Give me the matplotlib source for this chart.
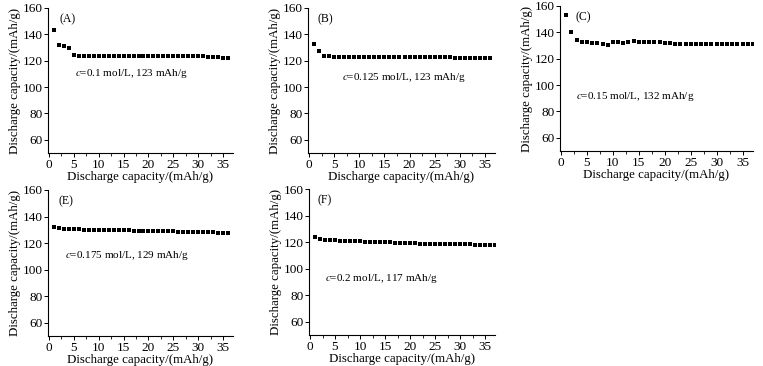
import numpy as np
import matplotlib
matplotlib.use("Agg")
import matplotlib.pyplot as plt
from matplotlib.ticker import MultipleLocator

plt.rcParams['font.family'] = ['Liberation Serif', 'DejaVu Serif']

# cycle number and capacity for each panel
cyc_a = list(range(1, 37))
cap_a = [143.5, 132.3, 130.8, 129.3, 124.3, 123.5, 123.4, 123.3, 123.4, 123.4,
         123.5, 123.4, 123.4, 123.4, 123.5, 123.4, 123.4, 123.5, 123.4, 123.4,
         123.5, 123.4, 123.4, 123.4, 123.5, 123.4, 123.4, 123.5, 123.4, 123.3,
         123.4, 123.0, 123.1, 123.0, 122.3, 122.0]

cyc_b = list(range(1, 37))
cap_b = [133.0, 127.3, 123.8, 123.3, 123.0, 123.0, 122.9, 122.9, 123.0, 123.0,
         123.0, 123.0, 122.9, 123.0, 123.0, 122.9, 122.9, 122.9, 122.9, 122.8,
         122.8, 122.8, 122.7, 122.7, 122.6, 122.6, 122.5, 122.5, 122.4, 122.4,
         122.3, 122.3, 122.2, 122.2, 122.0, 121.8]

cyc_c = list(range(1, 38))
cap_c = [153.0, 140.0, 134.0, 133.0, 132.4, 131.9, 131.6, 131.1, 130.6, 132.4,
         132.4, 132.1, 132.7, 133.2, 132.7, 132.6, 132.4, 132.4, 132.4, 131.6,
         131.6, 131.4, 131.1, 130.9, 131.2, 131.3, 131.3, 131.3, 131.2, 131.4,
         131.4, 131.4, 131.4, 131.4, 131.4, 131.3, 131.3]

cyc_e = list(range(1, 37))
cap_e = [132.5, 131.2, 130.8, 130.6, 130.4, 130.3, 130.1, 130.0, 130.0, 129.9,
         129.8, 129.8, 129.7, 129.6, 129.6, 129.5, 129.4, 129.3, 129.3, 129.2,
         129.1, 129.0, 129.0, 128.9, 128.8, 128.7, 128.6, 128.5, 128.4, 128.3,
         128.2, 128.1, 128.0, 127.8, 127.6, 127.3]

cyc_f = list(range(1, 38))
cap_f = [124.0, 122.5, 121.8, 121.7, 121.3, 121.1, 121.0, 120.8, 120.6, 120.5,
         120.3, 120.2, 120.1, 120.0, 119.9, 119.7, 119.6, 119.4, 119.3, 119.0,
         119.0, 118.9, 118.9, 118.8, 118.7, 118.6, 118.6, 118.5, 118.4, 118.3,
         118.3, 118.2, 118.1, 118.0, 117.9, 117.9, 117.8]

panels = [
    ("(A)", "0.1 mol/L, 123 mAh/g", cyc_a, cap_a),
    ("(B)", "0.125 mol/L, 123 mAh/g", cyc_b, cap_b),
    ("(C)", "0.15 mol/L, 132 mAh/g", cyc_c, cap_c),
    ("(E)", "0.175 mol/L, 129 mAh/g", cyc_e, cap_e),
    ("(F)", "0.2 mol/L, 117 mAh/g", cyc_f, cap_f),
]

# axes boxes in pixels: left, right, top, bottom
boxes = [(48, 233, 8, 153), (308, 495, 8, 153), (560, 753, 6, 151),
         (48, 233, 190, 336), (309, 495, 189, 335)]
# annotation positions (data coords)
notes = [(5.2, 110.5), (6.5, 107.5), (2.9, 91), (3.2, 111), (3.0, 92.5)]
# panel label x positions (axes fraction)
labx = [0.06, 0.05, 0.08, 0.055, 0.045]

W, H = 763, 366
fig = plt.figure(figsize=(W / 100, H / 100), dpi=100)

for (lab, txt, x, y), (l, r, t, b), (nx, ny), lx in zip(panels, boxes, notes, labx):
    ax = fig.add_axes([l / W, (H - b) / H, (r - l) / W, (b - t) / H])
    ax.plot(x, y, 's', color='black', markersize=3.2, markeredgewidth=0)
    ax.set_xlim(-0.2, 37)
    ax.set_ylim(50, 160)
    ax.spines['top'].set_visible(False)
    ax.spines['right'].set_visible(False)
    ax.spines['left'].set_linewidth(0.8)
    ax.spines['bottom'].set_linewidth(0.8)
    ax.xaxis.set_major_locator(MultipleLocator(5))
    ax.xaxis.set_minor_locator(MultipleLocator(2.5))
    ax.set_yticks([60, 80, 100, 120, 140, 160])
    ax.tick_params(labelsize=9.5, length=3, width=0.7, pad=1)
    ax.tick_params(which='minor', length=2, width=0.6)
    ax.set_xlabel("Discharge capacity/(mAh/g)", fontsize=9.3, labelpad=0)
    ax.set_ylabel("Discharge capacity/(mAh/g)", fontsize=9.3, labelpad=1)
    ax.text(lx, 0.965, lab, transform=ax.transAxes, fontsize=8.5, va='top')
    ax.text(nx, ny, "$c$=" + txt, fontsize=8, va='center',
            math_fontfamily='stix')

fig.savefig("out.png", dpi=100)
